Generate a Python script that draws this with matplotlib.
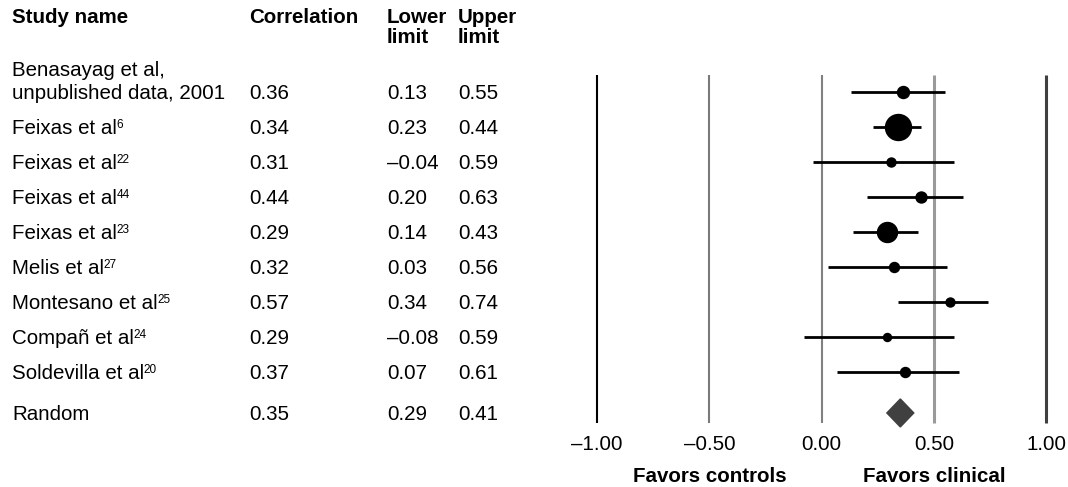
import matplotlib.pyplot as plt
import matplotlib.transforms as mtransforms
from matplotlib.patches import Polygon
import numpy as np

plt.rcParams['font.family'] = ['Liberation Sans', 'DejaVu Sans']

# study data
studies = ["Benasayag et al,\nunpublished data, 2001",
           "Feixas et al", "Feixas et al", "Feixas et al", "Feixas et al",
           "Melis et al", "Montesano et al", "Compañ et al", "Soldevilla et al"]
refs = ["", "6", "22", "44", "23", "27", "25", "24", "20"]
corr = [0.36, 0.34, 0.31, 0.44, 0.29, 0.32, 0.57, 0.29, 0.37]
lower = [0.13, 0.23, -0.04, 0.20, 0.14, 0.03, 0.34, -0.08, 0.07]
upper = [0.55, 0.44, 0.59, 0.63, 0.43, 0.56, 0.74, 0.59, 0.61]
weights = [12, 26, 9, 11, 20, 10, 9, 8, 10]   # marker diameter (px) ~ study weight

pooled_name = "Random"
pooled = [0.35, 0.29, 0.41]

ticks = [-1.0, -0.5, 0.0, 0.5, 1.0]
tick_labels = ["–1.00", "–0.50", "0.00", "0.50", "1.00"]

def fmt(v):
    s = "%.2f" % abs(v)
    return ("–" + s) if v < 0 else s

W, H = 1068, 487
fig = plt.figure(figsize=(W / 100, H / 100), dpi=100)
ax = fig.add_axes([590.5 / W, 1 - 428 / H, 462.5 / W, 358 / H])

n = len(studies)
ypos = np.arange(n, dtype=float)
ypool = n - 1 + 1.17

ax.set_xlim(-1.03, 1.03)
ax.set_ylim(9.6, -0.63)

# reference lines
line_styles = {-1.0: ("black", 1.5), -0.5: ("#7a7a7a", 1.5), 0.0: ("#808080", 1.5),
               0.5: ("#9a9a9a", 2.2), 1.0: ("#404040", 2.2)}
for t in ticks:
    c, lw = line_styles[t]
    ax.vlines(t, -0.49, 9.46, color=c, lw=lw, zorder=1)

# study CIs and points
for i in range(n):
    ax.plot([lower[i], upper[i]], [ypos[i], ypos[i]], color="black", lw=2, zorder=2,
            solid_capstyle='butt')
    ax.plot(corr[i], ypos[i], 'o', color="black", ms=weights[i] * 0.72, zorder=3)

# pooled diamond
dh = 0.4
diamond = Polygon([[pooled[1], ypool], [pooled[0], ypool - dh],
                   [pooled[2], ypool], [pooled[0], ypool + dh]],
                  closed=True, facecolor="#404040", edgecolor="#404040", zorder=3)
ax.add_patch(diamond)

for s in ax.spines.values():
    s.set_visible(False)
ax.set_yticks([])
ax.set_xticks(ticks)
ax.set_xticklabels(tick_labels, fontsize=14.8)
ax.tick_params(axis='x', length=0, pad=5)

# table columns
row_base = mtransforms.blended_transform_factory(fig.transFigure, ax.transData)
row_trans = mtransforms.offset_copy(row_base, fig, y=-5.2, units='points')
col_x = [12 / W, 249 / W, 387 / W, 458 / W]
fs = 14.8

for i in range(n):
    lines = studies[i].split("\n")
    for k, ln in enumerate(reversed(lines)):
        t = ax.text(col_x[0], ypos[i] - k * 0.66, ln, transform=row_trans, fontsize=fs,
                    va='baseline', ha='left')
        if k == 0 and refs[i]:
            ax.annotate(refs[i], xy=(1, ypos[i]), xycoords=(t, row_trans),
                        xytext=(-0.3, 4.8), textcoords='offset points',
                        fontsize=8.5, va='baseline', ha='left')
    ax.text(col_x[1], ypos[i], fmt(corr[i]), transform=row_trans, fontsize=fs, va='baseline')
    ax.text(col_x[2], ypos[i], fmt(lower[i]), transform=row_trans, fontsize=fs, va='baseline')
    ax.text(col_x[3], ypos[i], fmt(upper[i]), transform=row_trans, fontsize=fs, va='baseline')

ax.text(col_x[0], ypool, pooled_name, transform=row_trans, fontsize=fs, va='baseline')
ax.text(col_x[1], ypool, fmt(pooled[0]), transform=row_trans, fontsize=fs, va='baseline')
ax.text(col_x[2], ypool, fmt(pooled[1]), transform=row_trans, fontsize=fs, va='baseline')
ax.text(col_x[3], ypool, fmt(pooled[2]), transform=row_trans, fontsize=fs, va='baseline')

# headers
hy1 = 1 - 23 / H
hy2 = 1 - 43 / H
fig.text(col_x[0], hy1, "Study name", fontsize=fs, fontweight='bold', va='baseline')
fig.text(col_x[1], hy1, "Correlation", fontsize=fs, fontweight='bold', va='baseline')
fig.text(col_x[2], hy1, "Lower", fontsize=fs, fontweight='bold', va='baseline')
fig.text(col_x[2], hy2, "limit", fontsize=fs, fontweight='bold', va='baseline')
fig.text(col_x[3], hy1, "Upper", fontsize=fs, fontweight='bold', va='baseline')
fig.text(col_x[3], hy2, "limit", fontsize=fs, fontweight='bold', va='baseline')

# favours labels
fav_trans = mtransforms.blended_transform_factory(ax.transData, fig.transFigure)
ax.text(-0.5, 1 - 476 / H, "Favors controls", transform=fav_trans, fontsize=fs,
        fontweight='bold', ha='center', va='center')
ax.text(0.5, 1 - 476 / H, "Favors clinical", transform=fav_trans, fontsize=fs,
        fontweight='bold', ha='center', va='center')

fig.savefig("out.png", dpi=100)
